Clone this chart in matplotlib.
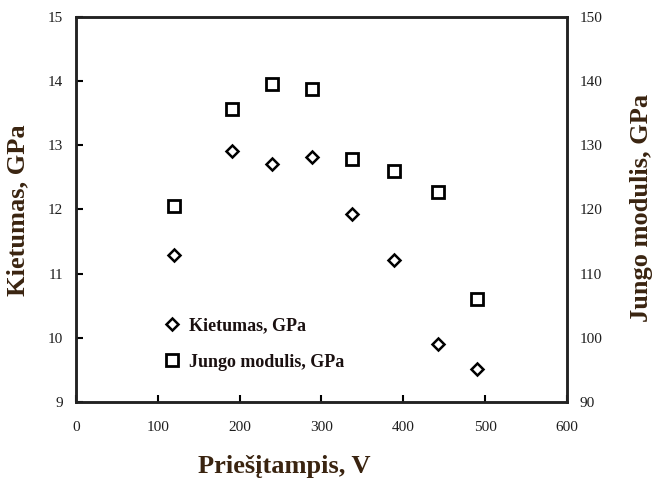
import matplotlib.pyplot as plt
from matplotlib.lines import Line2D

# Priešįtampis (V) and the two measured properties
itampa = [120, 191, 240, 289, 337, 389, 443, 490]
kietumas = [11.29, 12.91, 12.71, 12.82, 11.93, 11.21, 9.90, 9.51]
jungo = [120.6, 135.7, 139.6, 138.8, 127.8, 126.0, 122.8, 106.1]

x_ticks = [0, 100, 200, 300, 400, 500, 600]
left_ticks = [9, 10, 11, 12, 13, 14, 15]
right_ticks = [90, 100, 110, 120, 130, 140, 150]

plt.rcParams['font.family'] = ['Liberation Serif', 'DejaVu Serif']
label_color = '#3a2410'

fig = plt.figure(figsize=(6.54, 4.86), dpi=100)
ax = fig.add_axes([0.116, 0.173, 0.751, 0.792])
ax2 = ax.twinx()

ax.plot(itampa, kietumas, linestyle='none', marker='D', ms=6.5,
        mfc='white', mec='black', mew=1.8, label='Kietumas, GPa')
ax2.plot(itampa, jungo, linestyle='none', marker='s', ms=9,
         mfc='white', mec='black', mew=2.0, label='Jungo modulis, GPa')

ax.set_xlim(0, 600)
ax.set_ylim(9, 15)
ax2.set_ylim(90, 150)
ax.set_xticks(x_ticks)
ax.set_yticks(left_ticks)
ax2.set_yticks(right_ticks)

for a in (ax, ax2):
    for s in a.spines.values():
        s.set_linewidth(1.8)
        s.set_color('#222222')

ax.tick_params(axis='x', direction='in', length=5, width=1.5, pad=14,
               labelsize=11, labelcolor='#1e1e1e')
ax.tick_params(axis='y', direction='in', length=5, width=1.5, pad=9,
               labelsize=11, labelcolor='#1e1e1e')
ax2.tick_params(axis='y', direction='in', length=0, pad=9,
                labelsize=11, labelcolor='#1e1e1e')

fig.text(0.028, 0.568, 'Kietumas, GPa', rotation=90, ha='center', va='center',
         fontsize=19, fontweight='bold', color=label_color)
fig.text(0.981, 0.572, 'Jungo modulis, GPa', rotation=90, ha='center', va='center',
         fontsize=19, fontweight='bold', color=label_color)
fig.text(0.434, 0.04, 'Priešįtampis, V', ha='center', va='center',
         fontsize=19, fontweight='bold', color=label_color)

handles = [
    Line2D([], [], linestyle='none', marker='D', ms=6.5, mfc='white', mec='black', mew=1.8),
    Line2D([], [], linestyle='none', marker='s', ms=9, mfc='white', mec='black', mew=2.0),
]
fig.legend(handles, ['Kietumas, GPa', 'Jungo modulis, GPa'],
           loc='center left', bbox_to_anchor=(0.247, 0.292), frameon=False,
           prop={'size': 13, 'weight': 'bold'}, labelcolor='#1a1010',
           handletextpad=0.3, labelspacing=1.05, handlelength=1.2,
           borderaxespad=0, borderpad=0)

fig.savefig('out.png', dpi=100)
